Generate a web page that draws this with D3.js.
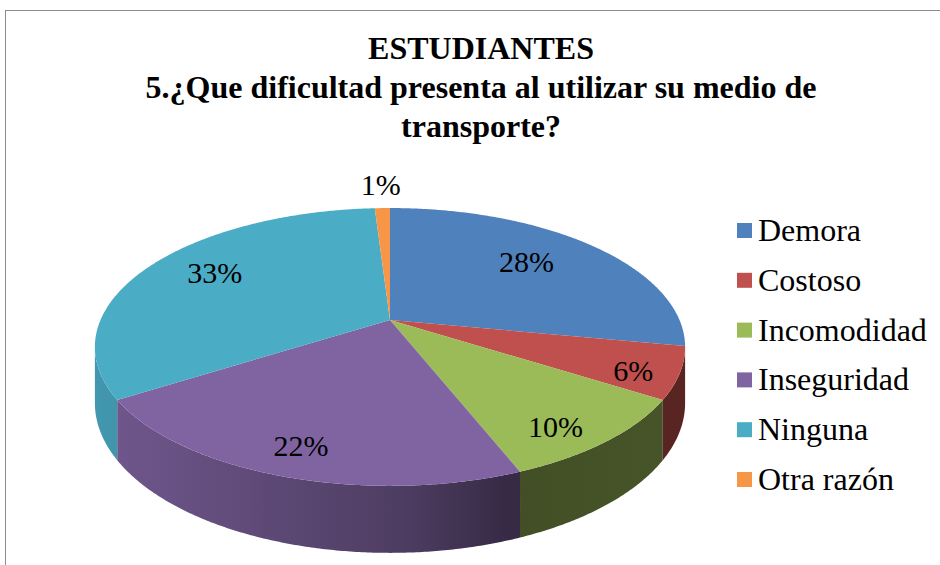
<!DOCTYPE html>
<html>
<head>
<meta charset="utf-8">
<script src="https://cdn.jsdelivr.net/npm/d3@7"></script>
<style>
    body { margin: 0; background: #fff; }
    svg text { font-family: "Liberation Serif", "Times New Roman", "DejaVu Serif", serif; fill: #000; }
</style>
</head>
<body>
<script>
// data
const categories = ["Demora", "Costoso", "Incomodidad", "Inseguridad", "Ninguna", "Otra razón"];
const values = [28, 6, 10, 22, 33, 1];
const valueLabels = ["28%", "6%", "10%", "22%", "33%", "1%"];
const colors = ["#4f81bd", "#c0504d", "#9bbb59", "#8064a2", "#4bacc6", "#f79646"];
const titleLines = ["ESTUDIANTES", "5.¿Que dificultad presenta al utilizar su medio de", "transporte?"];

// label placement (fraction of radius, angle nudge in degrees) like excel puts them
const labelRadius = [0.70, 0.86, 0.85, 0.84, 0.75, 1.26];
const labelNudge = [-3, 3, 4, 0, 3, 0];

const W = 940, H = 565;
// 3d pie projection: apex, horizontal/vertical scale, perspective, thickness
const CX = 390, CY = 320, KX = 289.5, KY = 133.7, P = 0.194, DEPTH = 54;

function project(phi, r, drop) {
    const X = r * Math.sin(phi), Z = r * Math.cos(phi);
    const w = 1 + P * Z;
    return [CX + KX * X / w, CY - KY * Z / w + drop / w];
}

function rim(a0, a1, drop) {
    const n = Math.max(2, Math.ceil((a1 - a0) / 0.008));
    return d3.range(n + 1).map(i => project(a0 + (a1 - a0) * i / n, 1, drop));
}

const svg = d3.select("body").append("svg")
    .attr("width", W)
    .attr("height", H);

const defs = svg.append("defs");

// chart frame
svg.append("rect")
    .attr("x", 5.5).attr("y", 10.5)
    .attr("width", W).attr("height", H)
    .attr("fill", "#fff")
    .attr("stroke", "#8c8c8c")
    .attr("stroke-width", 1);

// title
svg.append("g").selectAll("text")
    .data(titleLines)
    .join("text")
    .attr("x", 481)
    .attr("y", (d, i) => 59 + i * 39)
    .attr("text-anchor", "middle")
    .attr("font-size", 32)
    .attr("font-weight", "bold")
    .text(d => d);

const pie = d3.pie().sort(null).value(d => d)(values);
const line = d3.line();

// side walls only visible between the two silhouette points
const sideA = Math.acos(-P), sideB = 2 * Math.PI - Math.acos(-P);

pie.forEach(function (s, i) {
    const grad = defs.append("linearGradient")
        .attr("id", "side" + i)
        .attr("gradientUnits", "userSpaceOnUse")
        .attr("x1", CX - KX * 1.02).attr("x2", CX + KX * 1.02)
        .attr("y1", 0).attr("y2", 0);
    [[0, 0.35], [0.52, 1.4], [0.70, 2.4], [1, 2.2]].forEach(function (st) {
        grad.append("stop")
            .attr("offset", st[0])
            .attr("stop-color", d3.color(colors[i]).darker(st[1]).formatHex());
    });
});

svg.append("g").selectAll("path")
    .data(pie.filter(s => s.endAngle > sideA && s.startAngle < sideB))
    .join("path")
    .attr("fill", d => "url(#side" + d.index + ")")
    .attr("d", function (d) {
        const a0 = Math.max(d.startAngle, sideA), a1 = Math.min(d.endAngle, sideB);
        const pts = rim(a0, a1, 0).concat(rim(a0, a1, DEPTH).reverse());
        return line(pts) + "Z";
    });

// top faces
svg.append("g").selectAll("path")
    .data(pie)
    .join("path")
    .attr("fill", d => colors[d.index])
    .attr("d", d => line([[CX, CY]].concat(rim(d.startAngle, d.endAngle, 0))) + "Z");

// data labels
svg.append("g").selectAll("text")
    .data(pie)
    .join("text")
    .attr("text-anchor", "middle")
    .attr("font-size", 30)
    .each(function (d) {
        const mid = (d.startAngle + d.endAngle) / 2 + labelNudge[d.index] * Math.PI / 180;
        const p = project(mid, labelRadius[d.index], 0);
        d3.select(this).attr("x", p[0]).attr("y", p[1] + 10);
    })
    .text(d => valueLabels[d.index]);

// legend
const legend = svg.append("g").selectAll("g")
    .data(categories)
    .join("g")
    .attr("transform", (d, i) => "translate(737," + (230.5 + i * 49.8) + ")");

legend.append("rect")
    .attr("x", 0).attr("y", -7.5)
    .attr("width", 15).attr("height", 15)
    .attr("fill", (d, i) => colors[i]);

legend.append("text")
    .attr("x", 21)
    .attr("y", 10.5)
    .attr("font-size", 32)
    .text(d => d);
</script>
</body>
</html>
